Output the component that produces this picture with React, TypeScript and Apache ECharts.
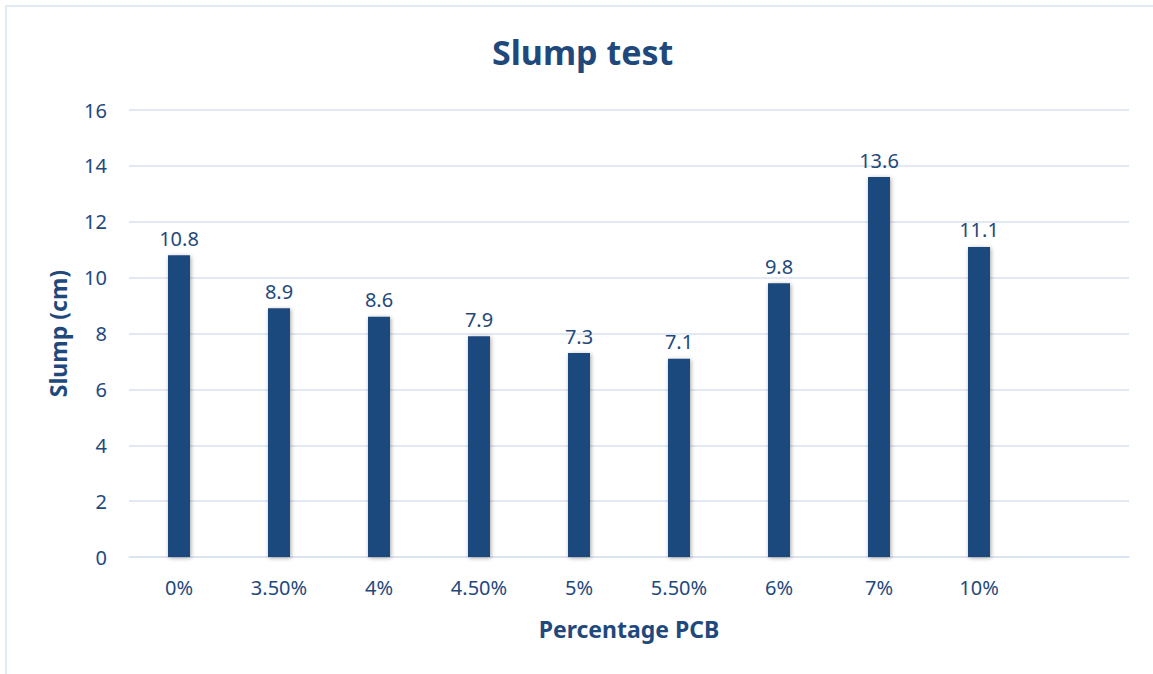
import React, { useEffect, useRef } from "react";
import * as echarts from "echarts";

const categories = ["0%", "3.50%", "4%", "4.50%", "5%", "5.50%", "6%", "7%", "10%"];
const slumpValues = [10.8, 8.9, 8.6, 7.9, 7.3, 7.1, 9.8, 13.6, 11.1];
const yTicks = { min: 0, max: 16, interval: 2 };

const TEXT = "#1F497D";
const BAR = "#1F497D";
const GRID = "#D9E2F1";
const FONT = "'Noto Sans', 'Open Sans', sans-serif";

export default function App() {
  const ref = useRef<HTMLDivElement>(null);
  useEffect(() => {
    if (!ref.current) return;
    const chart = echarts.init(ref.current, null, { renderer: "svg" });
    const axisCats = [...categories, ""];
    chart.setOption({
      animation: false,
      backgroundColor: "#ffffff",
      textStyle: { fontFamily: FONT },
      title: {
        text: "Slump test",
        left: 487,
        top: 30,
        textStyle: { color: TEXT, fontSize: 34, fontWeight: "bold", fontFamily: FONT },
      },
      graphic: [
        {
          type: "rect",
          shape: { x: 6, y: 6, width: 1170, height: 700 },
          style: { fill: "none", stroke: "#D6E2F3", lineWidth: 1.5 },
          silent: true,
          z: -1,
        },
      ],
      grid: { left: 129, right: 24, top: 110, bottom: 117, containLabel: false },
      xAxis: {
        type: "category",
        data: axisCats,
        name: "Percentage PCB",
        nameLocation: "middle",
        nameGap: 60,
        nameTextStyle: { color: TEXT, fontSize: 23, fontWeight: "bold", fontFamily: FONT },
        axisLine: { show: true, lineStyle: { color: GRID, width: 1.5 } },
        axisTick: { show: false },
        axisLabel: { color: TEXT, fontSize: 20, margin: 20, fontFamily: FONT, interval: 0 },
        splitLine: { show: false },
      },
      yAxis: {
        type: "value",
        min: yTicks.min,
        max: yTicks.max,
        interval: yTicks.interval,
        name: "Slump (cm)",
        nameLocation: "middle",
        nameGap: 60,
        nameRotate: 90,
        nameTextStyle: { color: TEXT, fontSize: 23, fontWeight: "bold", fontFamily: FONT },
        axisLine: { show: false },
        axisTick: { show: false },
        axisLabel: { color: TEXT, fontSize: 20, margin: 22, fontFamily: FONT },
        splitLine: { show: true, lineStyle: { color: GRID, width: 1.5 } },
      },
      series: [
        {
          type: "bar",
          data: slumpValues,
          barWidth: 22,
          itemStyle: {
            color: BAR,
            shadowColor: "rgba(0,0,0,0.35)",
            shadowBlur: 4,
            shadowOffsetX: 1,
            shadowOffsetY: 1,
          },
          label: {
            show: true,
            position: "top",
            distance: 7,
            color: TEXT,
            fontSize: 20,
            fontFamily: FONT,
          },
        },
      ],
    });
    return () => chart.dispose();
  }, []);
  return (
    <div
      ref={ref}
      style={{ position: "fixed", left: 0, top: 0, width: 1153, height: 674 }}
    />
  );
}
